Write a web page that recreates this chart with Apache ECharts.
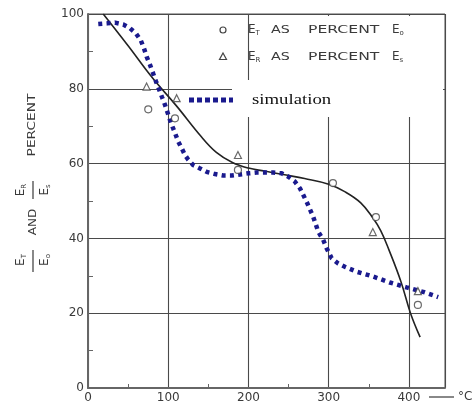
<!DOCTYPE html>
<html><head><meta charset="utf-8">
<script src="https://cdn.jsdelivr.net/npm/echarts@6/dist/echarts.min.js"></script>
<style>html,body{margin:0;padding:0;background:#fff}#c{width:473px;height:407px}</style>
</head><body><div id="c"></div>
<script>
const xTickLabels = ['0','100','200','300','400'];
const yTickLabels = ['0','20','40','60','80','100'];

// solid fitted curve
const curveX = [19,50,80,110,140,160,180,200,220,245,270,300,320,340,355,365,375,390,402,414];
const curveY = [100,91.5,83,75.5,67.5,63,60.3,58.8,58,57,56,54.5,52.5,49.5,45.5,42,37,28.5,20,13.6];

// simulation (blue dotted)
const simX = [12.8,24,33.6,44,52.3,59.8,65.7,69.8,73.1,77.3,81,84.7,88.5,92.2,96,99.7,103.4,108.4,112.5,116.8,120.9,125,131.2,139.6,147.9,158.3,168.6,179.1,189.4,199.8,210.2,220.6,230.9,241.4,249.6,257.9,264.2,272.5,280.7,287,293.2,297.4,303.7,311.9,320.2,334.8,355.5,376.3,397.1,417.8,436.5];
const simY = [97.3,97.5,97.7,97.2,96.2,94.8,93,90.8,88.6,86.4,84.2,82,79.9,77.8,75.7,73.3,70.9,68.2,65.9,64.1,62.3,61,59.6,58.7,57.8,57.2,56.8,56.8,57.1,57.4,57.6,57.6,57.6,57.4,56.5,55.2,53.4,49.8,45.8,41.8,39.6,37.4,34.7,33.3,32.4,31.1,29.8,28.2,26.9,25.7,24.3];

// E_T as percent E_o (circles)
const etX = [75.1,108.4,186.9,305.3,358.9,411.2];
const etY = [74.5,72.1,58.3,54.8,45.7,22.2];
// E_R as percent E_s (triangles)
const erX = [73,110.5,186.9,355,411.2];
const erY = [80.6,77.5,62.3,41.7,25.9];

const zip = (a,b) => a.map((v,i)=>[v,b[i]]);
const chart = echarts.init(document.getElementById('c'));
const tf = 'DejaVu Sans';
const ink = '#3a3a3a';

function rot(x,y,text,size,sx){
  return {type:'text', x:x, y:y, rotation:Math.PI/2, scaleX:sx||1, z:20,
    style:{text:text, font:size+'px "'+tf+'"', fill:ink, align:'center', verticalAlign:'middle'}};
}
function sub(x,y,main,s,r){
  return {type:'text', x:x, y:y, rotation:r||0, z:20,
    style:{text:'{e|'+main+'}{s|'+s+'}', rich:{e:{font:'12px "'+tf+'"', fill:ink}, s:{font:'7px "'+tf+'"', fill:ink, padding:[6,0,0,0]}},
      align:r?'center':'left', verticalAlign:'middle'}};
}

chart.setOption({
  animation:false,
  grid:{left:88, right:28, top:14, bottom:19, show:true, borderColor:'#555', borderWidth:1},
  xAxis:{type:'value', min:0, max:445, interval:100,
    axisLine:{show:true, lineStyle:{color:'#666', width:2}},
    axisTick:{show:false, inside:true},
    minorTick:{show:true, splitNumber:2, length:4, lineStyle:{color:'#666', width:1}},
    splitLine:{show:true, lineStyle:{color:'#4a4a4a', width:1.1}},
    axisLabel:{showMaxLabel:false, margin:4, color:ink, fontFamily:tf, fontSize:12,
      formatter:v=>xTickLabels[xTickLabels.indexOf(String(v))] || ''}},
  yAxis:{type:'value', min:0, max:100, interval:20,
    axisLine:{show:true, lineStyle:{color:'#666', width:2}},
    axisTick:{show:false, inside:true},
    minorTick:{show:true, splitNumber:2, length:5, lineStyle:{color:'#666', width:1}},
    splitLine:{show:true, lineStyle:{color:'#4a4a4a', width:1.1}},
    axisLabel:{margin:4, color:ink, fontFamily:tf, fontSize:12,
      formatter:v=>yTickLabels[yTickLabels.indexOf(String(v))] || ''}},
  series:[
    {type:'line', data:zip(curveX,curveY), smooth:0.4, symbol:'none',
      lineStyle:{color:'#222', width:1.6}, z:3},
    {type:'line', data:zip(simX,simY), smooth:false, symbol:'none',
      lineStyle:{color:'#1a1a8e', width:4.5, type:[4,4.3], cap:'butt'}, z:4},
    {type:'scatter', data:zip(etX,etY), symbol:'circle', symbolSize:7,
      itemStyle:{color:'#fff', borderColor:'#444', borderWidth:1.2}, z:5},
    {type:'scatter', data:zip(erX,erY), symbol:'triangle', symbolSize:7,
      itemStyle:{color:'#fff', borderColor:'#444', borderWidth:1.2}, z:5}
  ],
  graphic:[
    {type:'rect', shape:{x:251, y:16, width:192, height:101}, style:{fill:'#fff'}, z:10},
    {type:'rect', shape:{x:232, y:80, width:20, height:37}, style:{fill:'#fff'}, z:10},
    {type:'circle', shape:{cx:223, cy:30, r:3}, style:{fill:'#fff', stroke:'#444', lineWidth:1.2}, z:20},
    {type:'polygon', shape:{points:[[223,53],[226.5,59.5],[219.5,59.5]]}, style:{fill:'#fff', stroke:'#444', lineWidth:1.2}, z:20},
    sub(248,30,'E','T'),
    {type:'text', x:271, y:30, z:20, scaleX:1.3, style:{text:'AS', font:'11px "'+tf+'"', fill:ink, verticalAlign:'middle'}},
    {type:'text', x:308, y:30, z:20, scaleX:1.42, style:{text:'PERCENT', font:'11px "'+tf+'"', fill:ink, verticalAlign:'middle'}},
    sub(392,30,'E','o'),
    sub(248,57,'E','R'),
    {type:'text', x:271, y:57, z:20, scaleX:1.3, style:{text:'AS', font:'11px "'+tf+'"', fill:ink, verticalAlign:'middle'}},
    {type:'text', x:308, y:57, z:20, scaleX:1.42, style:{text:'PERCENT', font:'11px "'+tf+'"', fill:ink, verticalAlign:'middle'}},
    sub(392,57,'E','s'),
    {type:'line', shape:{x1:189, y1:100, x2:233, y2:100}, style:{stroke:'#1a1a8e', lineWidth:5, lineDash:[5,3]}, z:20},
    {type:'text', x:252, y:100, z:20, scaleX:1.25, style:{text:'simulation', font:'15px "Liberation Serif"', fill:'#111', verticalAlign:'middle'}},
    rot(32,125,'PERCENT',11,1.25),
    sub(21,190,'E','R',Math.PI/2),
    {type:'line', shape:{x1:33, y1:181, x2:33, y2:199}, style:{stroke:ink, lineWidth:1.2}, z:20},
    sub(45,190,'E','s',Math.PI/2),
    rot(33,222,'AND',11,1.1),
    sub(21,260,'E','T',Math.PI/2),
    {type:'line', shape:{x1:33, y1:250, x2:33, y2:272}, style:{stroke:ink, lineWidth:1.2}, z:20},
    sub(45,260,'E','o',Math.PI/2),
    {type:'line', shape:{x1:429, y1:397, x2:454, y2:397}, style:{stroke:ink, lineWidth:1.2}, z:20},
    {type:'text', x:458, y:397, z:20, style:{text:'°C', font:'12px "'+tf+'"', fill:ink, verticalAlign:'middle'}}
  ]
});
</script>
</body></html>
